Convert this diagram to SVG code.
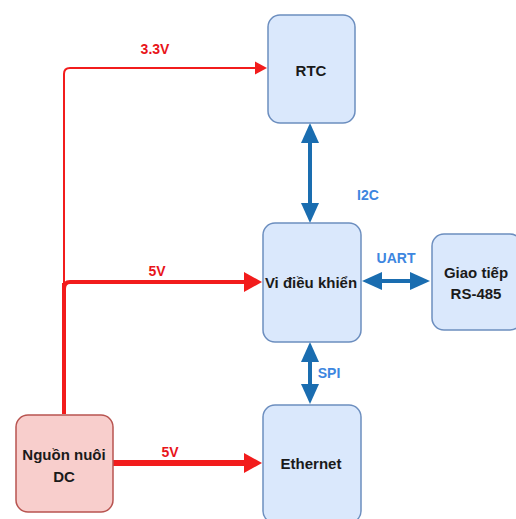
<svg xmlns="http://www.w3.org/2000/svg" width="516" height="519" viewBox="0 0 516 519">
<style>
.box{fill:#dae8fc;stroke:#6c8ebf;stroke-width:1.5}
.pw{fill:#f8cecc;stroke:#b85450;stroke-width:1.5}
.t{font-family:"Liberation Sans",Arial,sans-serif;font-weight:bold;font-size:15px;fill:#1a1a1a;text-anchor:middle}
.lr{font-family:"Liberation Sans",Arial,sans-serif;font-weight:bold;font-size:14px;fill:#e8141a;text-anchor:middle}
.lb{font-family:"Liberation Sans",Arial,sans-serif;font-weight:bold;font-size:14px;fill:#3d86e0;text-anchor:middle}
.red{stroke:#f21c1c;fill:none}
.blue{stroke:#1a6db0;fill:none;stroke-width:4}
</style>
<defs>
<marker id="ar1" markerUnits="userSpaceOnUse" markerWidth="12" markerHeight="13" refX="0" refY="6.5" orient="auto" overflow="visible"><path d="M0,0 L12,6.5 L0,13 Z" fill="#f21c1c"/></marker>
<marker id="ar2" markerUnits="userSpaceOnUse" markerWidth="18" markerHeight="20" refX="0" refY="10" orient="auto" overflow="visible"><path d="M0,0 L18,10 L0,20 Z" fill="#f21c1c"/></marker>
<marker id="ab" markerUnits="userSpaceOnUse" markerWidth="20" markerHeight="18" refX="0" refY="9" orient="auto-start-reverse" overflow="visible"><path d="M0,0 L20,9 L0,18 Z" fill="#1a6db0"/></marker>
</defs>
<g id="connectors">
<path class="red" d="M64,414 V283" stroke-width="4"/>
<path class="red" d="M64,285 V74 Q64,68 70,68 H255" stroke-width="2" marker-end="url(#ar1)"/>
<path class="red" d="M64,289 Q64,282 70,282 H244" stroke-width="4" marker-end="url(#ar2)"/>
<path class="red" d="M113,463 H244" stroke-width="6" marker-end="url(#ar2)"/>
<path class="blue" d="M310,143 V203" marker-start="url(#ab)" marker-end="url(#ab)"/>
<path class="blue" d="M382,281 H410" marker-start="url(#ab)" marker-end="url(#ab)"/>
<path class="blue" d="M310,362 V384" marker-start="url(#ab)" marker-end="url(#ab)"/>
<text class="lr" x="155" y="54">3.3V</text>
<text class="lr" x="157" y="276">5V</text>
<text class="lr" x="170" y="457">5V</text>
<text class="lb" x="368" y="200">I2C</text>
<text class="lb" x="396" y="263">UART</text>
<text class="lb" x="329" y="378">SPI</text>
</g>
<g id="rtc"><rect class="box" x="268" y="15" width="87" height="108" rx="12"/><text class="t" x="311" y="76">RTC</text></g>
<g id="mcu"><rect class="box" x="263" y="223" width="98" height="119" rx="12"/><text class="t" x="311" y="288">Vi điều khiển</text></g>
<g id="rs485"><rect class="box" x="432" y="234" width="90" height="96" rx="12"/><text class="t" x="476" y="278">Giao tiếp</text><text class="t" x="476" y="299">RS-485</text></g>
<g id="ethernet"><rect class="box" x="263" y="405" width="98" height="118" rx="12"/><text class="t" x="311" y="469">Ethernet</text></g>
<g id="power"><rect class="pw" x="16" y="415" width="97" height="97" rx="12"/><text class="t" x="64" y="460">Nguồn nuôi</text><text class="t" x="64" y="482">DC</text></g>
</svg>
